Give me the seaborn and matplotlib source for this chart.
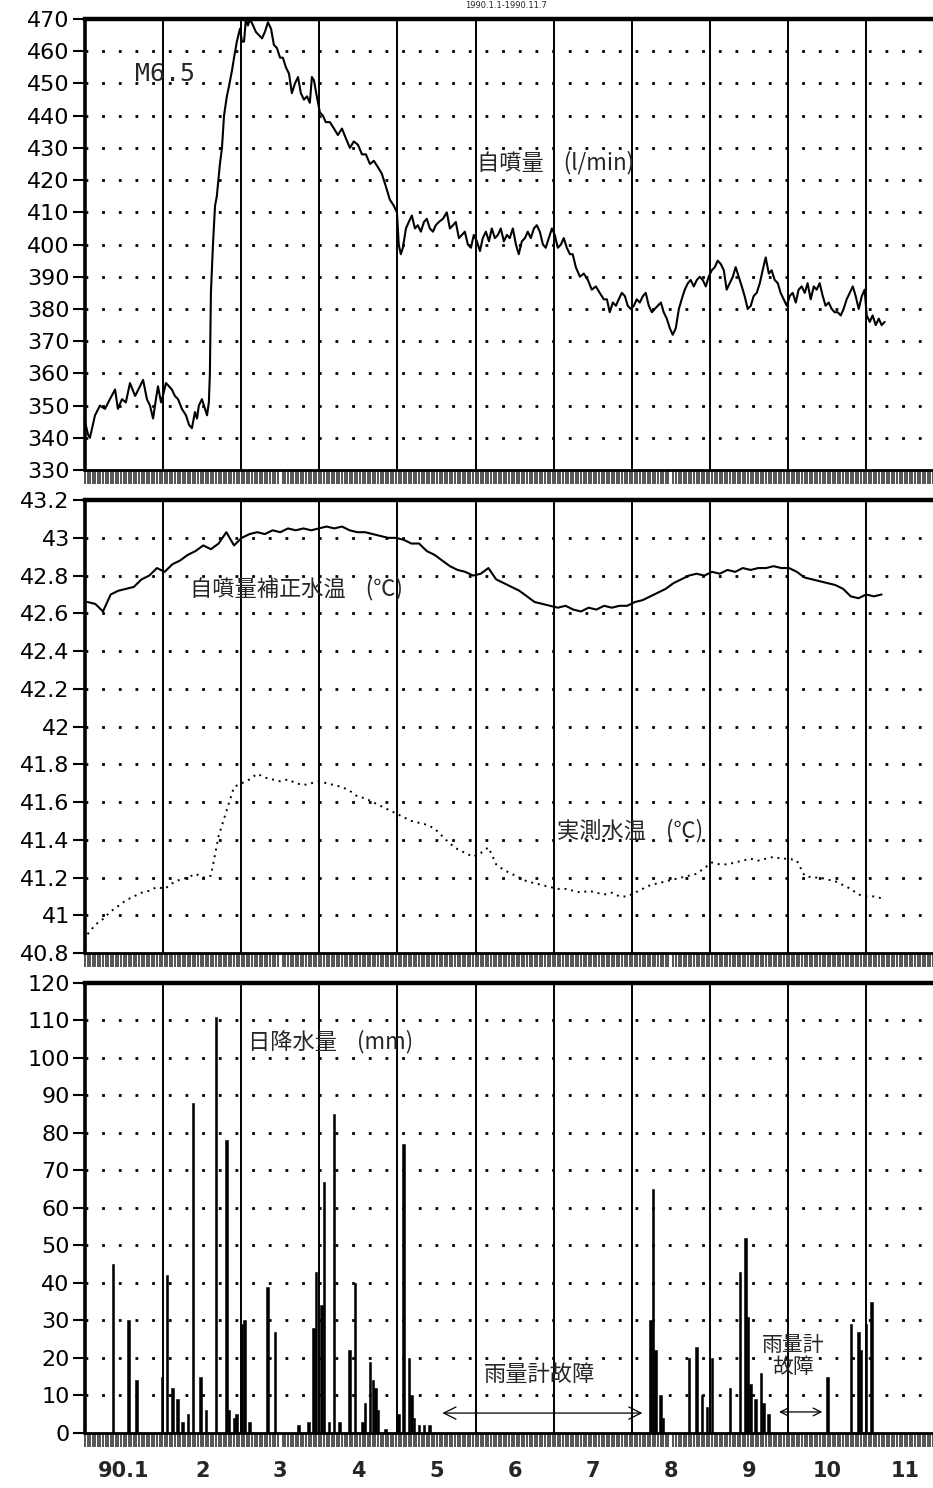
import numpy as np
import matplotlib
matplotlib.use("Agg")
import matplotlib.pyplot as plt
from matplotlib.ticker import MultipleLocator
import seaborn as sns

# 自噴量 (l/min), day counted from 1990-01-01
flow_days = [0.0, 1.2, 1.9, 3.9, 5.8, 7.8, 9.7, 11.7, 12.8, 14.4, 15.9, 17.5, 19.5, 21.4, 22.6, 24.1,
             25.3, 26.5, 27.6, 28.4, 29.6, 30.3, 31.5, 32.7, 33.8, 35.0, 36.2, 37.7, 39.3, 40.5, 41.6,
             42.8, 43.6, 44.3, 45.5, 46.7, 47.5, 48.2, 48.6, 49.0, 49.8, 50.6, 51.3, 52.5, 53.3, 54.1,
             55.2, 56.0, 57.2, 58.0, 59.1, 60.3, 61.1, 61.9, 62.6, 63.4, 64.2, 65.4, 66.5, 67.7, 68.9,
             70.0, 71.2, 72.4, 73.5, 74.7, 75.9, 77.0, 78.2, 79.4, 80.5, 81.7, 82.9, 84.0, 85.2, 86.4,
             87.5, 88.3, 89.1, 90.2, 91.4, 92.6, 93.7, 95.3, 96.9, 98.4, 100.0, 101.5, 103.1, 104.6,
             106.2, 107.8, 109.3, 110.9, 112.4, 114.0, 115.5, 117.1, 118.6, 120.2, 121.4, 122.1, 122.9,
             123.7, 124.9, 126.0, 127.2, 128.4, 129.5, 130.7, 131.9, 133.0, 134.2, 135.4, 136.5, 137.7,
             139.3, 140.8, 142.0, 143.2, 144.3, 145.5, 146.7, 147.8, 149.0, 150.2, 151.3, 152.5, 153.7,
             154.8, 156.0, 157.2, 158.3, 159.5, 160.7, 161.8, 163.0, 164.2, 165.3, 166.5, 167.7, 168.8,
             170.0, 171.2, 172.3, 173.5, 174.7, 175.8, 177.0, 178.2, 179.3, 180.5, 181.7, 182.8, 184.0,
             185.2, 186.3, 187.5, 188.7, 189.8, 191.0, 192.6, 194.1, 195.7, 197.2, 198.8, 200.3, 201.9,
             203.1, 204.2, 205.4, 206.6, 207.7, 208.9, 210.1, 211.2, 212.4, 213.6, 214.7, 215.9, 217.1,
             218.2, 219.4, 220.6, 221.7, 222.9, 224.1, 225.2, 226.4, 227.6, 228.7, 229.9, 231.1, 232.2,
             233.4, 234.6, 235.7, 236.9, 238.1, 239.2, 240.4, 241.6, 242.7, 243.9, 245.1, 246.2, 247.4,
             248.6, 249.7, 250.9, 252.1, 253.2, 254.4, 255.6, 256.7, 257.9, 259.1, 260.2, 261.4, 262.6,
             263.7, 264.9, 266.1, 267.2, 268.4, 269.6, 270.7, 271.9, 273.1, 274.2, 275.4, 276.6, 277.7,
             278.9, 280.1, 281.2, 282.4, 283.6, 284.7, 285.9, 287.1, 288.2, 289.4, 290.6, 291.7, 292.9,
             294.1, 295.2, 296.4, 297.6, 298.8, 299.9, 301.1, 302.3, 303.4, 304.2, 305.4, 306.5, 307.7,
             308.9, 310.0, 311.2]
flow_vals = [345, 341, 340, 347, 350, 349, 352, 355, 349, 352, 351, 357, 353, 356, 358, 352,
             350, 346, 352, 356, 351, 353, 357, 356, 355, 353, 352, 349, 347, 344, 343,
             348, 346, 350, 352, 349, 347, 351, 360, 385, 400, 412, 415, 425, 430, 440,
             446, 449, 454, 458, 463, 467, 463, 463, 470, 468, 470, 468, 466, 465, 464,
             466, 469, 467, 462, 461, 458, 458, 455, 453, 447, 450, 452, 447, 445, 446,
             444, 452, 451, 446, 441, 440, 438, 438, 436, 434, 436, 433, 430, 432,
             431, 428, 428, 425, 426, 424, 422, 418, 414, 412, 410, 400, 397,
             399, 405, 407, 409, 405, 406, 404, 407, 408, 405, 404, 406, 407,
             408, 410, 405, 406, 407, 402, 403, 404, 400, 399, 403, 401, 398,
             402, 404, 401, 405, 402, 403, 405, 401, 403, 402, 405, 400, 397,
             401, 402, 404, 402, 405, 406, 404, 400, 399, 402, 405, 403, 399,
             400, 402, 399, 397, 397, 393, 390, 391, 389, 386, 387, 385, 383,
             383, 379, 382, 381, 383, 385, 384, 381, 380, 381, 383, 382, 384,
             385, 381, 379, 380, 381, 382, 379, 377, 374, 372, 374, 380, 383,
             386, 388, 389, 387, 389, 390, 389, 387, 390, 392, 393, 395, 394,
             392, 386, 388, 390, 393, 390, 387, 384, 380, 381, 384, 385, 388,
             392, 396, 391, 392, 389, 388, 385, 383, 381, 384, 385, 382, 386,
             387, 385, 388, 383, 387, 386, 388, 384, 381, 382, 380, 379, 379,
             378, 380, 383, 385, 387, 384, 380, 384, 386, 378, 376, 378, 375,
             377, 375, 376]

# water temperatures (deg C), read every 3 days
temp_days = list(range(1, 311, 3))
temp_corrected = [42.66, 42.65, 42.61, 42.70, 42.72, 42.73, 42.74, 42.78, 42.80, 42.84, 42.82, 42.86,
                  42.88, 42.91, 42.93, 42.96, 42.94, 42.97, 43.03, 42.96, 43.00, 43.02, 43.03, 43.02,
                  43.04, 43.03, 43.05, 43.04, 43.05, 43.04, 43.05, 43.06, 43.05, 43.06, 43.04, 43.03,
                  43.03, 43.02, 43.01, 43.00, 43.00, 42.99, 42.97, 42.97, 42.93, 42.91, 42.88, 42.85,
                  42.83, 42.82, 42.80, 42.81, 42.84, 42.78, 42.76, 42.74, 42.72, 42.69, 42.66, 42.65,
                  42.64, 42.63, 42.64, 42.62, 42.61, 42.63, 42.62, 42.64, 42.63, 42.64, 42.64, 42.66,
                  42.67, 42.69, 42.71, 42.73, 42.76, 42.78, 42.80, 42.81, 42.80, 42.82, 42.81, 42.83,
                  42.82, 42.84, 42.83, 42.84, 42.84, 42.85, 42.84, 42.84, 42.82, 42.79, 42.78, 42.77,
                  42.76, 42.75, 42.73, 42.69, 42.68, 42.70, 42.69, 42.70]
temp_measured = [40.90, 40.95, 40.98, 41.02, 41.05, 41.08, 41.10, 41.12, 41.13, 41.15, 41.14, 41.17,
                 41.19, 41.20, 41.22, 41.20, 41.21, 41.42, 41.55, 41.68, 41.70, 41.72, 41.75, 41.73,
                 41.72, 41.71, 41.72, 41.70, 41.69, 41.70, 41.71, 41.70, 41.69, 41.68, 41.66, 41.63,
                 41.62, 41.60, 41.58, 41.56, 41.54, 41.52, 41.50, 41.49, 41.48, 41.46, 41.42, 41.38,
                 41.35, 41.33, 41.31, 41.33, 41.36, 41.27, 41.24, 41.22, 41.20, 41.18, 41.17, 41.16,
                 41.15, 41.14, 41.14, 41.13, 41.12, 41.13, 41.12, 41.11, 41.12, 41.10, 41.10, 41.12,
                 41.14, 41.16, 41.17, 41.18, 41.19, 41.20, 41.21, 41.22, 41.25, 41.28, 41.27, 41.27,
                 41.28, 41.29, 41.30, 41.29, 41.30, 41.31, 41.30, 41.30, 41.29, 41.21, 41.20, 41.20,
                 41.19, 41.18, 41.16, 41.14, 41.11, 41.10, 41.10, 41.09]

# 日降水量 (mm)
rain_days = [11, 17, 20, 30, 32, 34, 36, 38, 40, 42, 45, 47, 51, 55, 56, 58, 59, 61, 62, 64, 71, 74,
             83, 87, 89, 90, 92, 93, 95, 97, 99, 103, 105, 108, 109, 111, 112, 113, 114, 117, 122,
             124, 126, 127, 128, 130, 132, 134, 220, 221, 222, 224, 225, 235, 238, 240, 242, 244,
             251, 255, 257, 258, 259, 261, 263, 264, 266, 289, 298, 301, 302, 304, 306]
rain_mm = [45, 30, 14, 15, 42, 12, 9, 3, 5, 88, 15, 6, 111, 78, 6, 4, 5, 29, 30, 3, 39, 27,
           2, 3, 28, 43, 34, 67, 3, 85, 3, 22, 40, 3, 8, 19, 14, 12, 6, 1, 5,
           77, 20, 10, 4, 2, 2, 2, 30, 65, 22, 10, 4, 20, 23, 10, 7, 20,
           12, 43, 52, 31, 13, 9, 16, 8, 5, 15, 29, 27, 22, 29, 35]

month_labels = ["90.1", "2", "3", "4", "5", "6", "7", "8", "9", "10", "11"]

sns.set_style("white")
plt.rcParams["font.family"] = ["DejaVu Sans", "Noto Sans CJK JP"]
jp = ["Noto Sans CJK JP", "DejaVu Sans"]

fig = plt.figure(figsize=(9.33, 14.88), dpi=100)
ax1 = fig.add_axes([0.0911, 0.6841, 0.9089, 0.3031])
ax2 = fig.add_axes([0.0911, 0.3595, 0.9089, 0.3044])
ax3 = fig.add_axes([0.0911, 0.0370, 0.9089, 0.3024])

month_w = 30.4
month_edges = [month_w * k for k in range(1, 11)]
month_mids = [month_w * k + month_w / 2 for k in range(11)]


def style_panel(ax, ticks, labels):
    ax.set_xlim(0, 330)
    ax.set_ylim(ticks[0], ticks[-1])
    ax.set_yticks(ticks)
    ax.set_yticklabels(labels)
    for m in month_edges:
        ax.axvline(m, color="black", lw=1.4, zorder=1)
    for t in ticks[1:-1]:
        ax.axhline(t, color="black", lw=2, ls=(0, (1, 5)), zorder=1)
    ax.spines["right"].set_visible(False)
    ax.spines["top"].set_linewidth(3.2)
    ax.spines["left"].set_linewidth(2.6)
    ax.spines["bottom"].set_linewidth(2)
    for s in ax.spines.values():
        s.set_color("black")
    ax.tick_params(axis="y", left=True, direction="out", length=9, width=1.5,
                   labelsize=16, pad=2, colors="black")
    ax.xaxis.set_minor_locator(MultipleLocator(1))
    ax.tick_params(axis="x", which="minor", bottom=True, direction="out", length=10, width=1.1)
    ax.set_xticks(month_mids)
    ax.tick_params(axis="x", which="major", bottom=True, length=0, pad=20)
    ax.set_xticklabels([])
    ax.set_xlabel("")
    ax.set_ylabel("")


# panel 1: flow rate
sns.lineplot(x=flow_days, y=flow_vals, ax=ax1, color="black", lw=1.5, estimator=None, zorder=3)
t1 = list(range(330, 471, 10))
style_panel(ax1, t1, [str(t) for t in t1])
ax1.text(19.5, 453, "M6.5", family="DejaVu Sans Mono", fontsize=18, va="center")
ax1.text(152.5, 425.5, "自噴量    (l/min)", family=jp, fontsize=16, va="center")

# panel 2: water temperature
sns.lineplot(x=temp_days, y=temp_corrected, ax=ax2, color="black", lw=1.5, estimator=None, zorder=3)
sns.lineplot(x=temp_days, y=temp_measured, ax=ax2, color="black", lw=1.4, ls=(0, (1, 2.5)),
             estimator=None, zorder=3)
t2 = [round(40.8 + 0.2 * k, 1) for k in range(13)]
style_panel(ax2, t2, [f"{t:g}" for t in t2])
ax2.text(41, 42.73, "自噴量補正水温    (℃)", family=jp, fontsize=16, va="center")
ax2.text(183.5, 41.45, "実測水温    (℃)", family=jp, fontsize=16, va="center")

# panel 3: daily precipitation
sns.histplot(x=rain_days, weights=rain_mm, discrete=True, shrink=0.95, color="black",
             edgecolor="black", linewidth=0.4, alpha=1, ax=ax3, zorder=3)
t3 = list(range(0, 121, 10))
style_panel(ax3, t3, [str(t) for t in t3])
ax3.set_xticklabels(month_labels, fontsize=15, fontweight="bold")
ax3.text(63.5, 104.5, "日降水量    (mm)", family=jp, fontsize=16, va="center")
ax3.text(177, 15.5, "雨量計故障", family=jp, fontsize=16, ha="center", va="center")
ax3.annotate("", xy=(218, 5.3), xytext=(138, 5.3),
             arrowprops=dict(arrowstyle="<->", lw=0.9, color="black", mutation_scale=22))
ax3.text(275.5, 20.5, "雨量計\n故障", family=jp, fontsize=15, ha="center", va="center",
         linespacing=1.0)
ax3.annotate("", xy=(288, 5.6), xytext=(269, 5.6),
             arrowprops=dict(arrowstyle="<->", lw=0.9, color="black", mutation_scale=14))

fig.text(0.542, 0.9995, "1990.1.1-1990.11.7", fontsize=6, ha="center", va="top")

fig.savefig("out.png", dpi=100)
